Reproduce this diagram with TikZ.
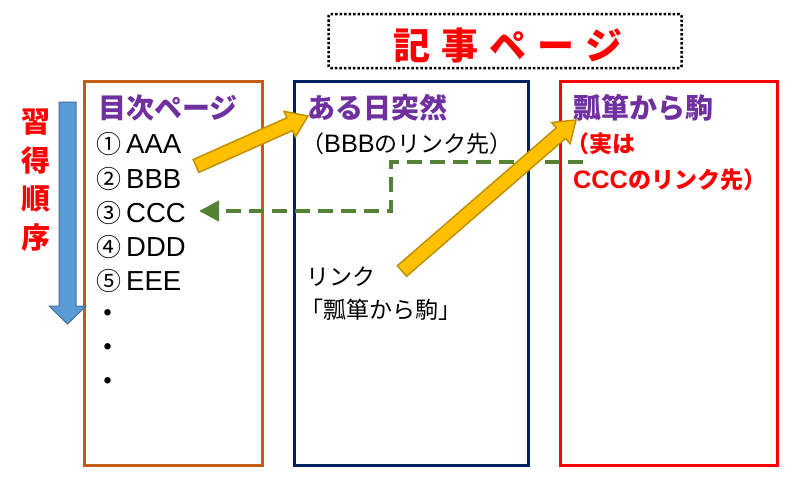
\documentclass[tikz,border=0pt]{standalone}
\usepackage{fontspec}
\setmainfont{Noto Sans CJK JP}
\newfontfamily\latfont[Scale=1.1]{Liberation Sans}
\usetikzlibrary{calc,arrows.meta}
\definecolor{boxorange}{HTML}{C55A11}
\definecolor{boxnavy}{HTML}{002060}
\definecolor{boxred}{HTML}{FF0000}
\definecolor{headpurple}{HTML}{7030A0}
\definecolor{linkgreen}{HTML}{548235}
\definecolor{arrowblue}{HTML}{5B9BD5}
\definecolor{arrowblueedge}{HTML}{41719C}
\definecolor{arrowyellow}{HTML}{FFC000}
\definecolor{arrowyellowedge}{HTML}{BF9000}
\begin{document}
\begin{tikzpicture}[x=1pt,y=-1pt,
  pagebox/.style={line width=3pt},
  heading/.style={anchor=west,inner sep=0pt,text=headpurple,font=\fontsize{28}{32}\selectfont\bfseries},
  item/.style={anchor=west,inner sep=0pt,font=\fontsize{23}{28}\selectfont},
  redtext/.style={anchor=west,inner sep=0pt,text=boxred,font=\fontsize{23}{28}\selectfont\bfseries},
  yarrow/.style={fill=arrowyellow,draw=arrowyellowedge,line width=1.5pt,line join=miter},
  greenlink/.style={draw=linkgreen,line width=4.5pt,dash pattern=on 15pt off 8pt,-{Triangle[length=20pt,width=20pt]}}
]
\useasboundingbox (0,0) rectangle (800,480);
% title
\node[draw=black,line width=2.5pt,dotted,rounded corners=2pt,minimum width=353pt,minimum height=54pt,inner sep=0pt] (titlebox) at (505,41) {};
\node[text=boxred,font=\fontsize{37}{40}\selectfont\bfseries,inner sep=0pt] (title) at (508,45) {記\hspace{11pt}事\hspace{11pt}ペ\hspace{11pt}ー\hspace{11pt}ジ};
% boxes
\draw[pagebox,draw=boxorange] (84,81) rectangle (262,465);
\draw[pagebox,draw=boxnavy] (294,81) rectangle (528,465);
\draw[pagebox,draw=boxred] (560,81) rectangle (777,465);
% blue arrow
\draw[fill=arrowblue,draw=arrowblueedge,line width=1pt] (59,102) -- (76,102) -- (76,306) -- (86,306) -- (67.5,324) -- (49,306) -- (59,306) -- cycle;
\node[text=boxred,font=\fontsize{29}{38.5}\selectfont\bfseries,align=center,inner sep=0pt] (order) at (36,180) {習\\得\\順\\序};
% box 1
\node[heading] (toc) at (98,108) {目次ページ};
\node[item] (a1) at (96,144) {\fontsize{25}{28}\selectfont①\hspace{5pt}{\latfont AAA}};
\node[item] (a2) at (96,179) {\fontsize{25}{28}\selectfont②\hspace{5pt}{\latfont BBB}};
\node[item] (a3) at (96,213) {\fontsize{25}{28}\selectfont③\hspace{5pt}{\latfont CCC}};
\node[item] (a4) at (96,247) {\fontsize{25}{28}\selectfont④\hspace{5pt}{\latfont DDD}};
\node[item] (a5) at (96,281) {\fontsize{25}{28}\selectfont⑤\hspace{5pt}{\latfont EEE}};
\node[item] (d1) at (96,316) {\bfseries ・};
\node[item] (d2) at (96,350) {\bfseries ・};
\node[item] (d3) at (96,384) {\bfseries ・};
% box 2
\node[heading] (b2head) at (307,108) {ある日突然};
\node[item] (b2sub) at (301,144) {（{\latfont BBB}のリンク先）};
\node[item] (link1) at (306,277) {リンク};
\node[item] (link2) at (300,310) {「瓢箪から駒」};
% box 3
\node[heading] (b3head) at (573,108) {瓢箪から駒};
\node[redtext] (b3sub1) at (566,144) {（実は};
\node[redtext] (b3sub2) at (573,180) {{\latfont CCC}のリンク先）};
% yellow arrows
\coordinate (y1a) at (196,166);
\coordinate (y1b) at (308,116);
\coordinate (y1c) at ($(y1b)!20pt!(y1a)$);
\draw[yarrow] ($(y1a)!7pt!90:(y1b)$) -- ($(y1c)!7pt!90:(y1b)$) -- ($(y1c)!14pt!90:(y1b)$) -- (y1b) -- ($(y1c)!14pt!-90:(y1b)$) -- ($(y1c)!7pt!-90:(y1b)$) -- ($(y1a)!7pt!-90:(y1b)$) -- cycle;
\coordinate (y2a) at (402,271);
\coordinate (y2b) at (576,120);
\coordinate (y2c) at ($(y2b)!20pt!(y2a)$);
% green link
\coordinate (g0) at (583,162);
\coordinate (gm) at (391,211);
\coordinate (gend) at (199,211);
\draw[greenlink] (g0) -| (gm) -- (gend);
\draw[yarrow] ($(y2a)!7pt!90:(y2b)$) -- ($(y2c)!7pt!90:(y2b)$) -- ($(y2c)!14pt!90:(y2b)$) -- (y2b) -- ($(y2c)!14pt!-90:(y2b)$) -- ($(y2c)!7pt!-90:(y2b)$) -- ($(y2a)!7pt!-90:(y2b)$) -- cycle;
\end{tikzpicture}
\end{document}
